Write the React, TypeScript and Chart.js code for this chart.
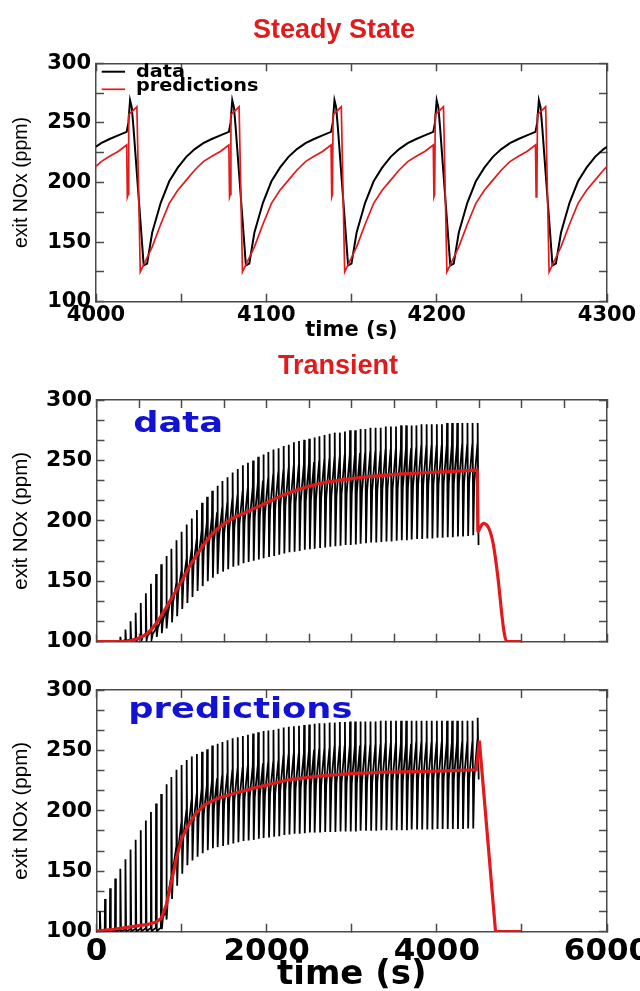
import React, { useEffect, useRef } from 'react';
import { Chart, registerables } from 'chart.js';

Chart.register(...registerables);

// ---------------- Steady State panel ----------------
const steadyXTicks = [4000, 4050, 4100, 4150, 4200, 4250, 4300];
const steadyXLabels = [4000, 4100, 4200, 4300];
const steadyYTicks = [100, 125, 150, 175, 200, 225, 250, 275, 300];
const noxLabels = [100, 150, 200, 250, 300];

const steadyDataTime = [
  4000, 4003, 4008, 4013, 4018, 4019, 4020, 4021, 4022,
  4028, 4030, 4033, 4038, 4043, 4048, 4053, 4058, 4063, 4068, 4073, 4078, 4079, 4080, 4081, 4082,
  4088, 4090, 4093, 4098, 4103, 4108, 4113, 4118, 4123, 4128, 4133, 4138, 4139, 4140, 4141, 4142,
  4148, 4150, 4153, 4158, 4163, 4168, 4173, 4178, 4183, 4188, 4193, 4198, 4199, 4200, 4201, 4202,
  4208, 4210, 4213, 4218, 4223, 4228, 4233, 4238, 4243, 4248, 4253, 4258, 4259, 4260, 4261, 4262,
  4268, 4270, 4273, 4278, 4283, 4288, 4293, 4298, 4300,
];
const steadyDataNOx = [
  230, 233, 236.5, 239.5, 242.5, 250, 269, 263, 246,
  130.5, 132, 158, 183, 201, 212.5, 221.5, 228, 233, 236.5, 239.5, 242.5, 250, 269, 263, 246,
  130.5, 132, 158, 183, 201, 212.5, 221.5, 228, 233, 236.5, 239.5, 242.5, 250, 269, 263, 246,
  130.5, 132, 158, 183, 201, 212.5, 221.5, 228, 233, 236.5, 239.5, 242.5, 250, 269, 263, 246,
  130.5, 132, 158, 183, 201, 212.5, 221.5, 228, 233, 236.5, 239.5, 242.5, 250, 269, 263, 246,
  130.5, 132, 158, 183, 201, 212.5, 221.5, 228, 230,
];
const steadyPredTime = [
  4000, 4003, 4008, 4013, 4018, 4018.4, 4018.8, 4019.2, 4024, 4026,
  4028, 4033, 4038, 4043, 4048, 4053, 4058, 4063, 4068, 4073, 4078, 4078.4, 4078.8, 4079.2, 4084, 4086,
  4088, 4093, 4098, 4103, 4108, 4113, 4118, 4123, 4128, 4133, 4138, 4138.4, 4138.8, 4139.2, 4144, 4146,
  4148, 4153, 4158, 4163, 4168, 4173, 4178, 4183, 4188, 4193, 4198, 4198.4, 4198.8, 4199.2, 4204, 4206,
  4208, 4213, 4218, 4223, 4228, 4233, 4238, 4243, 4248, 4253, 4258, 4258.4, 4258.8, 4259.2, 4264, 4266,
  4268, 4273, 4278, 4283, 4288, 4293, 4298, 4300,
];
const steadyPredNOx = [
  213.5, 217.5, 222, 226, 231.5, 188, 190, 257, 263.5, 125,
  131, 146, 165, 182.5, 193.5, 202, 210.5, 217.5, 222, 226, 231.5, 188, 190, 257, 263.5, 125,
  131, 146, 165, 182.5, 193.5, 202, 210.5, 217.5, 222, 226, 231.5, 188, 190, 257, 263.5, 125,
  131, 146, 165, 182.5, 193.5, 202, 210.5, 217.5, 222, 226, 231.5, 188, 190, 257, 263.5, 125,
  131, 146, 165, 182.5, 193.5, 202, 210.5, 217.5, 222, 226, 231.5, 188, 190, 257, 263.5, 125,
  131, 146, 165, 182.5, 193.5, 202, 210.5, 213.5,
];

// ---------------- Transient panels ----------------
const transientYTicks = [100, 116.67, 133.33, 150, 166.67, 183.33, 200, 216.67, 233.33, 250, 266.67, 283.33, 300];
const dataXTicks = [0, 500, 1000, 1500, 2000, 2500, 3000, 3500, 4000, 4500, 5000, 5500, 6000];
const predXTicks = [0, 1000, 2000, 3000, 4000, 5000, 6000];
const predXLabels = [0, 2000, 4000, 6000];

// times of the NOx spikes (one per cycle)
const spikeTimes = [
  40, 100, 160, 220, 280, 340, 400, 460, 520, 580, 640, 700, 760, 820, 880, 940, 1000, 1060, 1120, 1180,
  1240, 1300, 1360, 1420, 1480, 1540, 1600, 1660, 1720, 1780, 1840, 1900, 1960, 2020, 2080, 2140, 2200,
  2260, 2320, 2380, 2440, 2500, 2560, 2620, 2680, 2740, 2800, 2860, 2920, 2980, 3040, 3100, 3160, 3220,
  3280, 3340, 3400, 3460, 3520, 3580, 3640, 3700, 3760, 3820, 3880, 3940, 4000, 4060, 4120, 4180, 4240,
  4300, 4360, 4420, 4480,
];
const dataSpikeTimes = spikeTimes.slice(4);
// per-cycle turning points (s before the spike)
const TROUGH_LEAD = 52;
const KNEE_LEAD = 40;
const PRE_LEAD = 3;

// measured data, per cycle
const dataTrough = [
  100, 100, 100, 100, 100, 100.5, 101, 102, 104, 107, 111, 116, 121, 127, 132, 137, 142, 146, 150, 153,
  156, 158, 160, 162, 163, 165, 166, 167, 168, 169, 170, 171, 172, 173, 174, 174.5, 175, 176, 176.5, 177,
  177.5, 178, 178.5, 179, 179.5, 180, 180, 180.5, 181, 181.5, 182, 182, 182.5, 183, 183, 183.5, 184, 184,
  184.5, 185, 185, 185.5, 185.5, 186, 186, 186.5, 186.5, 187, 187, 187.5, 188,
];
const dataKnee = [
  100.2, 100.6, 101, 101.4, 101.9, 103.7, 104.8, 106.3, 111.2, 117.2, 124.2, 132.3, 140.6, 148.7, 155.8,
  162.9, 169.7, 174.9, 179.3, 182.6, 186, 189.2, 192, 194.4, 197, 199, 200.4, 203.1, 204.5, 206, 208.3,
  210.2, 211.6, 212.6, 214, 214.8, 215.5, 216.5, 217.2, 217.9, 218.6, 219.4, 220.1, 220.4, 222, 222.8,
  222.8, 223.5, 223.8, 224.5, 224.8, 224.8, 226.4, 226.7, 226.7, 227.4, 227.7, 227.7, 228, 229.7, 229.7,
  229.9, 229.9, 230.2, 230.7, 230.9, 230.9, 231.2, 231.2, 231.5, 231.7,
];
const dataPre = [
  100.5, 101.2, 102, 102.9, 103.8, 106.8, 108.5, 110.6, 118.4, 127.5, 137.4, 148, 158.1, 167.6, 176.1,
  184.5, 192.4, 198.5, 203.3, 207, 210.7, 214.9, 218.4, 221.1, 224.4, 226.4, 228.2, 231.5, 233.3, 235,
  238.5, 240.4, 242.2, 243.2, 245, 245.9, 246.8, 247.8, 248.7, 249.5, 250.4, 251.3, 252.2, 252.3, 254.2,
  255.1, 255.1, 256, 256.1, 257, 257.1, 257.1, 258.9, 259, 259, 259.9, 260, 260, 260.1, 262, 262, 262.1,
  262.1, 262.1, 262.9, 263, 263, 263.1, 263.1, 263.2, 263.3,
];
const dataPeak = [
  104, 110, 117, 124, 132, 140, 148, 156, 164, 171, 177, 184, 191, 197, 202, 209, 215, 220, 225, 229,
  233, 236, 240, 243, 246, 248, 250, 253, 255, 257, 259, 260, 262, 263, 265, 266, 267, 268, 269, 270,
  271, 272, 273, 273, 274, 275, 275, 276, 276, 277, 277, 277, 278, 278, 278, 279, 279, 279, 279, 280,
  280, 280, 280, 280, 281, 281, 281, 281, 281, 281, 281,
];
const dataTailTime = [4490];
const dataTailNOx = [180];

const dataAvgTime = [
  0, 300, 400, 500, 600, 700, 800, 900, 1000, 1100, 1200, 1300, 1400, 1500, 1600, 1700, 1800, 2000,
  2200, 2400, 2600, 2800, 3000, 3300, 3600, 3900, 4200, 4475, 4482, 4500, 4530, 4550, 4580, 4610,
  4640, 4665, 4695, 4725, 4760, 4790, 4820, 4990,
];
const dataAvgNOx = [
  100, 100, 101, 103, 107, 115, 126, 138, 150, 163, 174, 184, 192, 197.5, 202, 205.5, 208.5, 215,
  221.5, 226.5, 230.5, 233, 235, 237.2, 238.8, 240, 241, 242, 191, 193, 197, 198, 197, 194,
  188, 180, 166, 149, 125, 108, 100, 100,
];

// model predictions, per cycle
const predTrough = [
  100, 100, 100, 100, 100, 100, 100, 100, 100, 100, 100, 100, 100, 102, 110, 127, 138, 148, 155, 159,
  162, 165, 167.5, 169, 170, 171, 172, 173, 174, 175, 175.5, 176, 177, 177.5, 178, 178.5, 179, 180,
  180.5, 181, 181, 181.5, 182, 182, 182, 182.5, 182.5, 182.5, 183, 183, 183, 183, 183.5, 183.5, 183.5,
  183.5, 184, 184, 184, 184, 184, 184, 184.5, 184.5, 184.5, 184.5, 184.5, 185, 185, 185, 185, 185, 185,
  185.5, 185.5,
];
const predKnee = [
  100.2, 100.3, 100.4, 100.4, 100.5, 100.6, 100.7, 100.8, 100.8, 100.9, 101, 101.1, 101.1, 111.6, 130,
  151.6, 168, 178.1, 185.6, 189.8, 194.2, 196.8, 200.4, 201.9, 203.9, 205.1, 207.2, 208.2, 209.2, 210.2,
  210.9, 211.6, 212.6, 213.1, 213.6, 214.3, 216.8, 217.6, 218.1, 218.6, 218.8, 220.2, 220.7, 220.9,
  220.9, 221.4, 222.3, 222.5, 222.8, 223, 223, 223, 223.3, 223.3, 223.3, 223.5, 224.7, 224.7, 224.7,
  224.7, 224.7, 224.7, 225.9, 225.9, 225.9, 225.9, 225.9, 226.2, 226.2, 226.2, 226.2, 226.2, 226.2,
  226.4, 227.6,
];
const predPre = [
  100.5, 100.8, 101.1, 101.3, 101.6, 101.8, 102, 102.3, 102.5, 102.8, 103, 103.2, 103.4, 117.6, 145.4,
  169.8, 190, 200.6, 209, 213.6, 218.6, 220.9, 224.6, 227, 229.2, 230.5, 233.6, 234.6, 235.6, 236.6,
  237.5, 238.3, 239.3, 239.8, 240.3, 241.2, 245.6, 246.2, 246.7, 247.2, 247.6, 249.9, 250.4, 250.8,
  250.8, 251.3, 253.1, 253.5, 253.6, 254, 254, 254, 254.1, 254.1, 254.1, 254.5, 255.5, 255.5, 255.5,
  255.5, 255.5, 255.5, 256.5, 256.5, 256.5, 256.5, 256.5, 256.6, 256.6, 256.6, 256.6, 256.6, 256.6,
  256.7, 258.7,
];
const predPeak = [
  117, 127, 136, 144, 152, 160, 168, 176, 184, 192, 199, 206, 214, 222, 228, 234, 238, 242, 245, 247,
  249, 251, 254, 255.5, 257, 258.5, 260, 261, 262, 263, 264, 265, 266, 266.5, 267, 268, 269, 269.5, 270,
  270.5, 271, 271.5, 272, 272.5, 272.5, 273, 273, 273.5, 273.5, 274, 274, 274, 274, 274, 274, 274.5,
  274.5, 274.5, 274.5, 274.5, 274.5, 274.5, 274.5, 274.5, 274.5, 274.5, 274.5, 274.5, 274.5, 274.5,
  274.5, 274.5, 274.5, 274.5, 277,
];
const predTailTime = [4492];
const predTailNOx = [226];

const predAvgTime = [
  0, 200, 400, 600, 700, 760, 820, 880, 940, 1000, 1080, 1160, 1270, 1430, 1620, 1860, 2240, 2630,
  3020, 3410, 3730, 4100, 4465, 4500, 4690, 4990,
];
const predAvgNOx = [
  100.5, 102, 104, 106, 108, 111, 122, 141, 161, 177, 188, 197, 205, 210.5, 214.5, 219, 225.5, 229,
  231, 232, 232.5, 233, 234, 258, 100, 100,
];

// ---------------- styling ----------------
const RED = '#e31a1c';
const BLUE = '#1212d4';
const FRAME = '#4a4a4a';
const DJ = "'DejaVu Sans', Verdana, sans-serif";
const LS = "'Liberation Sans', Arial, Helvetica, sans-serif";

function pts(xs: number[], ys: number[]) {
  return xs.map((x, i) => ({ x, y: ys[i] }));
}

function cyclePts(times: number[], trough: number[], knee: number[], pre: number[], peak: number[], tailT: number[], tailV: number[]) {
  const out: { x: number; y: number }[] = [];
  times.forEach((t, i) => {
    out.push({ x: t - TROUGH_LEAD, y: trough[i] });
    out.push({ x: t - KNEE_LEAD, y: knee[i] });
    out.push({ x: t - PRE_LEAD, y: pre[i] });
    out.push({ x: t, y: peak[i] });
  });
  tailT.forEach((t, i) => out.push({ x: t, y: tailV[i] }));
  return out;
}

function labelCb(labels: number[]) {
  return (v: any) => (labels.indexOf(Number(v)) >= 0 ? String(v) : '');
}

function frameAxis(position: string, min: number, max: number, tickValues: number[], size: number, ticks?: any, title?: any) {
  const horizontal = position === 'top' || position === 'bottom';
  return {
    type: 'linear',
    position,
    min,
    max,
    afterBuildTicks: (s: any) => {
      s.ticks = tickValues.map((v) => ({ value: v }));
    },
    afterFit: (s: any) => {
      if (horizontal) s.height = size;
      else s.width = size;
      s.paddingLeft = 0;
      s.paddingRight = 0;
      s.paddingTop = 0;
      s.paddingBottom = 0;
    },
    grid: { display: true, drawOnChartArea: false, drawTicks: true, tickLength: -8, tickColor: FRAME, tickWidth: 1.5 },
    border: { display: true, color: FRAME, width: 1.5 },
    ticks: ticks || { display: false },
    title: title || { display: false },
  };
}

function labeledTicks(labels: number[], size: number, padding: number) {
  return {
    display: true,
    autoSkip: false,
    maxRotation: 0,
    minRotation: 0,
    padding,
    color: '#000',
    font: { family: DJ, size, weight: 'bold' },
    callback: labelCb(labels),
  };
}

function yTitle(size: number, top: number) {
  return {
    display: true,
    text: 'exit NOx (ppm)',
    color: '#000',
    font: { family: LS, size, weight: 'normal' },
    padding: { top, bottom: 0 },
  };
}

function xTitle(size: number, bottom: number) {
  return {
    display: true,
    text: 'time (s)',
    color: '#000',
    font: { family: DJ, size, weight: 'bold' },
    padding: { top: 0, bottom },
  };
}

function panelTextPlugin(items: any[]) {
  return {
    id: 'panelText',
    afterDatasetsDraw(chart: any) {
      const { ctx, chartArea } = chart;
      items.forEach((it) => {
        ctx.save();
        ctx.font = it.font;
        ctx.fillStyle = it.color;
        ctx.textAlign = 'left';
        ctx.textBaseline = 'alphabetic';
        ctx.translate(chartArea.left + it.dx, chartArea.top + it.dy);
        ctx.scale(it.scaleX || 1, 1);
        ctx.fillText(it.text, 0, 0);
        ctx.restore();
      });
    },
  };
}

function lineLegendPlugin(o: any) {
  return {
    id: 'lineLegend',
    afterDatasetsDraw(chart: any) {
      const { ctx, chartArea } = chart;
      chart.data.datasets.forEach((ds: any, i: number) => {
        const ly = chartArea.top + o.lineTop + i * o.lineGap;
        const lx = chartArea.left + o.lineStart;
        ctx.save();
        ctx.strokeStyle = ds.borderColor;
        ctx.lineWidth = ds.borderWidth;
        ctx.beginPath();
        ctx.moveTo(lx, ly);
        ctx.lineTo(lx + o.lineLength, ly);
        ctx.stroke();
        ctx.font = o.font;
        ctx.fillStyle = '#000';
        ctx.textAlign = 'left';
        ctx.textBaseline = 'alphabetic';
        ctx.translate(chartArea.left + o.textStart, chartArea.top + o.textTop + i * o.textGap);
        ctx.scale(o.scaleX, 1);
        ctx.fillText(ds.label, 0, 0);
        ctx.restore();
      });
    },
  };
}

const baseOptions = (padding: any, title: any) => ({
  responsive: false,
  maintainAspectRatio: false,
  animation: false,
  events: [],
  layout: { padding, autoPadding: false },
  plugins: { legend: { display: false }, tooltip: { enabled: false }, title },
  elements: { point: { radius: 0 } },
});

function steadyConfig() {
  return {
    type: 'scatter',
    data: {
      datasets: [
        { label: 'data', data: pts(steadyDataTime, steadyDataNOx), showLine: true, borderColor: '#000', borderWidth: 2, pointRadius: 0, tension: 0, order: 2 },
        { label: 'predictions', data: pts(steadyPredTime, steadyPredNOx), showLine: true, borderColor: RED, borderWidth: 1.7, pointRadius: 0, tension: 0, order: 1 },
      ],
    },
    options: {
      // negative right padding centres the full-width title over x = 334
      ...baseOptions({ left: 0, right: -28, top: 0, bottom: 0 }, {
        display: true,
        text: 'Steady State',
        color: RED,
        font: { family: LS, size: 27, weight: 'bold' },
        padding: { top: 14.4, bottom: 16.5 },
      }),
      scales: {
        x: frameAxis('bottom', 4000, 4300, steadyXTicks, 43.3, labeledTicks(steadyXLabels, 21, 9.3), xTitle(21, 1.4)),
        x2: frameAxis('top', 4000, 4300, steadyXTicks, 0),
        y: frameAxis('left', 100, 300, steadyYTicks, 96, labeledTicks(noxLabels, 21, 13), yTitle(19.5, 9.8)),
        y2: frameAxis('right', 100, 300, steadyYTicks, 61),
      },
    },
    plugins: [
      lineLegendPlugin({
        lineTop: 8.4, lineGap: 17.6, lineStart: 5.7, lineLength: 23.3,
        textStart: 40, textTop: 13.4, textGap: 14,
        font: `bold 18px ${DJ}`, scaleX: 1.07,
      }),
    ],
  };
}

function dataTransientConfig() {
  return {
    type: 'scatter',
    data: {
      datasets: [
        { label: 'data', data: cyclePts(dataSpikeTimes, dataTrough, dataKnee, dataPre, dataPeak, dataTailTime, dataTailNOx), showLine: true, borderColor: '#000', borderWidth: 1.8, pointRadius: 0, tension: 0, order: 2 },
        { label: 'average', data: pts(dataAvgTime, dataAvgNOx), showLine: true, borderColor: RED, borderWidth: 3.2, pointRadius: 0, cubicInterpolationMode: 'monotone', order: 1 },
      ],
    },
    options: {
      ...baseOptions({ left: 0, right: -36, top: 0, bottom: 0 }, {
        display: true,
        text: 'Transient',
        color: RED,
        font: { family: LS, size: 27, weight: 'bold' },
        padding: { top: 5.1, bottom: 17.5 },
      }),
      scales: {
        x: frameAxis('bottom', 0, 6000, dataXTicks, 18.3),
        x2: frameAxis('top', 0, 6000, dataXTicks, 0),
        y: frameAxis('left', 100, 300, transientYTicks, 96.5, labeledTicks(noxLabels, 22, 12.5), yTitle(20.5, 9.2)),
        y2: frameAxis('right', 100, 300, transientYTicks, 69),
      },
    },
    plugins: [
      panelTextPlugin([{ text: 'data', dx: 36.8, dy: 32, font: `bold 28px ${DJ}`, color: BLUE, scaleX: 1.26 }]),
    ],
  };
}

function predTransientConfig() {
  return {
    type: 'scatter',
    data: {
      datasets: [
        { label: 'predictions', data: cyclePts(spikeTimes, predTrough, predKnee, predPre, predPeak, predTailTime, predTailNOx), showLine: true, borderColor: '#000', borderWidth: 1.8, pointRadius: 0, tension: 0, order: 2 },
        { label: 'average', data: pts(predAvgTime, predAvgNOx), showLine: true, borderColor: RED, borderWidth: 3.2, pointRadius: 0, tension: 0, order: 1 },
      ],
    },
    options: {
      ...baseOptions({ left: 0, right: 33, top: 30, bottom: 0 }, { display: false }),
      scales: {
        x: frameAxis('bottom', 0, 6000, predXTicks, 59.3, labeledTicks(predXLabels, 31, 9.7), xTitle(34, -4.4)),
        x2: frameAxis('top', 0, 6000, predXTicks, 0),
        y: frameAxis('left', 100, 300, transientYTicks, 96.5, labeledTicks(noxLabels, 22, 12.5), yTitle(20.5, 9.2)),
        y2: frameAxis('right', 100, 300, transientYTicks, 0),
      },
    },
    plugins: [
      panelTextPlugin([{ text: 'predictions', dx: 31.8, dy: 28.3, font: `bold 28px ${DJ}`, color: BLUE, scaleX: 1.26 }]),
    ],
  };
}

function ChartPanel({ makeConfig, top, height }: { makeConfig: () => any; top: number; height: number }) {
  const ref = useRef<HTMLCanvasElement | null>(null);
  useEffect(() => {
    if (!ref.current) return;
    const chart = new Chart(ref.current, makeConfig() as any);
    return () => chart.destroy();
  }, [makeConfig]);
  return (
    <div style={{ position: 'absolute', left: 0, top, width: 640, height }}>
      <canvas ref={ref} width={640} height={height} style={{ display: 'block', width: 640, height }} />
    </div>
  );
}

export default function App() {
  return (
    <div style={{ position: 'absolute', left: 0, top: 0, width: 640, height: 991, overflow: 'hidden', background: '#fff' }}>
      <ChartPanel makeConfig={steadyConfig} top={0} height={345} />
      <ChartPanel makeConfig={dataTransientConfig} top={345} height={315} />
      <ChartPanel makeConfig={predTransientConfig} top={660} height={331} />
    </div>
  );
}
